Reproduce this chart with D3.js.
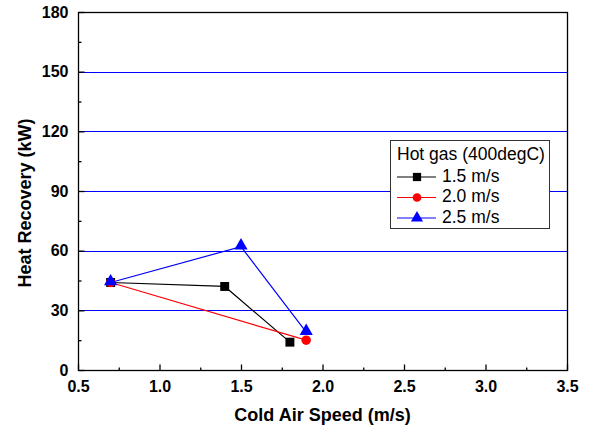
<!DOCTYPE html>
<html><head><meta charset="utf-8">
<script src="https://cdn.jsdelivr.net/npm/d3@7"></script>
<style>body{margin:0;background:#fff}svg{display:block}text{font-family:"Liberation Sans",Arial,sans-serif}</style>
</head><body><svg id="c" width="594" height="432"></svg>
<script>
const seriesNames = ["1.5 m/s", "2.0 m/s", "2.5 m/s"];
const x15 = [0.7, 1.4, 1.8], y15 = [44, 42, 14];
const x20 = [0.7, 1.9], y20 = [44, 15];
const x25 = [0.7, 1.5, 1.9], y25 = [44, 62, 19];
const xTicks = [0.5, 1.0, 1.5, 2.0, 2.5, 3.0, 3.5];
const yTicks = [0, 30, 60, 90, 120, 150, 180];
const gridVals = [30, 60, 90, 120, 150];
const legendTitle = "Hot gas (400degC)";

const svg = d3.select("#c");
const L = 78, R = 567, T = 12, B = 370;
const x = d3.scaleLinear().domain([0.5, 3.5]).range([L, R]);
const y = d3.scaleLinear().domain([0, 180]).range([B, T]);

// grid
svg.append("g").selectAll("line").data(gridVals).join("line")
  .attr("x1", L).attr("x2", R).attr("y1", d => Math.round(y(d)) + 0.5).attr("y2", d => Math.round(y(d)) + 0.5)
  .attr("stroke", "#0000ff").attr("stroke-width", 1);

// frame
svg.append("rect").attr("x", L + 0.5).attr("y", T + 0.5).attr("width", R - L).attr("height", B - T)
  .attr("fill", "none").attr("stroke", "#000").attr("stroke-width", 1.3);

// axes
const fmtX = d3.format(".1f");
const xAxis = d3.axisBottom(x).tickValues(xTicks).tickFormat(fmtX).tickSize(-6).tickPadding(10);
const gx = svg.append("g").attr("transform", `translate(0,${B + 0.5})`).call(xAxis);
const xMinor = d3.axisBottom(x).tickValues(d3.range(0.75, 3.5, 0.5)).tickFormat("").tickSize(-3);
svg.append("g").attr("transform", `translate(0,${B + 0.5})`).call(xMinor);
const yAxis = d3.axisLeft(y).tickValues(yTicks).tickSize(-6).tickPadding(10);
const gy = svg.append("g").attr("transform", `translate(${L + 0.5},0)`).call(yAxis);
const yMinor = d3.axisLeft(y).tickValues(d3.range(15, 180, 30)).tickFormat("").tickSize(-3);
svg.append("g").attr("transform", `translate(${L + 0.5},0)`).call(yMinor);
svg.selectAll(".domain").remove();
svg.selectAll(".tick line").attr("stroke", "#000").attr("stroke-width", 1.3);
svg.selectAll(".tick text").attr("font-size", 16).attr("font-weight", "bold").attr("fill", "#000")
  .style("font-family", '"Liberation Sans",Arial,sans-serif');
gx.selectAll(".tick text").attr("dy", "0.71em");

// titles
svg.append("text").attr("x", (L + R) / 2).attr("y", 421).attr("text-anchor", "middle")
  .attr("font-size", 18).attr("font-weight", "bold").text("Cold Air Speed (m/s)");
svg.append("text").attr("transform", `translate(31,203) rotate(-90)`).attr("text-anchor", "middle")
  .attr("font-size", 18).attr("font-weight", "bold").text("Heat Recovery (kW)");

// series
const series = [
  {name: seriesNames[0], xs: x15, ys: y15, color: "#000000", shape: d3.symbolSquare, size: 80},
  {name: seriesNames[1], xs: x20, ys: y20, color: "#ff0000", shape: d3.symbolCircle, size: 70},
  {name: seriesNames[2], xs: x25, ys: y25, color: "#0000ff", shape: d3.symbolTriangle, size: 75},
];
const line = d3.line().x(d => x(d[0])).y(d => y(d[1]));
series.forEach(s => {
  const pts = s.xs.map((v, i) => [v, s.ys[i]]);
  svg.append("path").attr("d", line(pts)).attr("fill", "none").attr("stroke", s.color).attr("stroke-width", 1.2);
});
series.forEach(s => {
  const pts = s.xs.map((v, i) => [v, s.ys[i]]);
  svg.append("g").selectAll("path").data(pts).join("path")
    .attr("transform", d => `translate(${x(d[0])},${y(d[1]) - (s.shape === d3.symbolTriangle ? 1 : 0)})`)
    .attr("d", d3.symbol().type(s.shape).size(s.size)).attr("fill", s.color);
});

// legend
const lg = svg.append("g");
lg.append("rect").attr("x", 390.5).attr("y", 140.5).attr("width", 159).attr("height", 88)
  .attr("fill", "#fff").attr("stroke", "#333").attr("stroke-width", 1);
lg.append("text").attr("x", 397).attr("y", 160).attr("font-size", 17.5).text(legendTitle);
series.forEach((s, i) => {
  const yy = 177 + i * 20.5;
  lg.append("line").attr("x1", 397).attr("x2", 436).attr("y1", yy).attr("y2", yy).attr("stroke", s.color).attr("stroke-width", 1);
  lg.append("path").attr("transform", `translate(417,${yy})`).attr("d", d3.symbol().type(s.shape).size(s.size * 0.85)).attr("fill", s.color);
  lg.append("text").attr("x", 442).attr("y", yy + 4.5).attr("font-size", 17.5).text(s.name);
});
</script></body></html>
